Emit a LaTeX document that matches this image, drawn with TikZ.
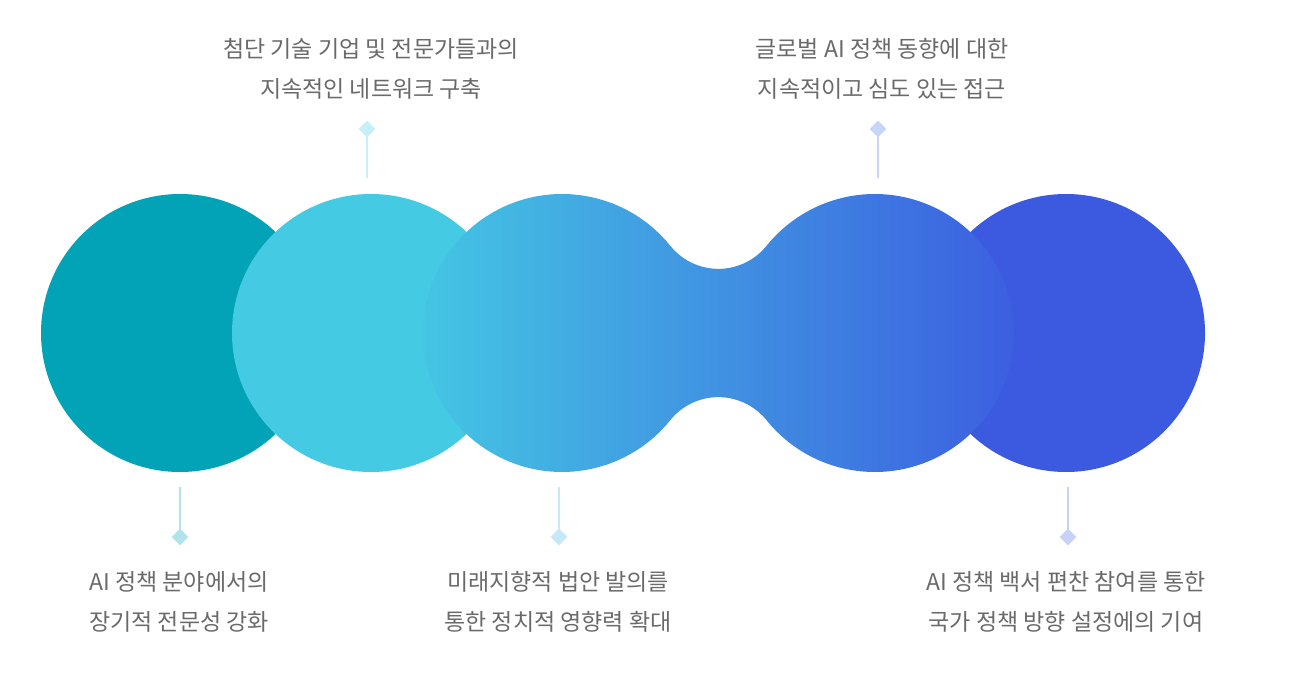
\documentclass[tikz,border=0pt]{standalone}
\usepackage{fontspec}
\setmainfont{Noto Sans CJK KR}
\usepackage{tikz}
\usetikzlibrary{shapes.geometric,positioning}
\definecolor{tealdeep}{HTML}{02A2B7}
\definecolor{cyanlight}{HTML}{44CAE2}
\definecolor{blobleft}{HTML}{44C8E3}
\definecolor{blobright}{HTML}{3C5CE0}
\definecolor{royal}{HTML}{3C5AE0}
\definecolor{labelgray}{HTML}{6A6A6A}
\definecolor{stemA}{HTML}{B2E3EA}
\definecolor{stemB}{HTML}{C6EFF7}
\definecolor{stemC}{HTML}{C6E8F8}
\definecolor{stemD}{HTML}{C6D6F7}
\definecolor{stemE}{HTML}{C8D1F7}

\begin{document}
\begin{tikzpicture}[x=1pt,y=1pt,
	labeltext/.style={align=center, text=labelgray, inner sep=0pt, font=\fontsize{23}{40}\selectfont},
	marker/.style={diamond, minimum size=17pt, inner sep=0pt},
	stem/.style={line width=2.7pt}]
				\useasboundingbox (0,0) rectangle (1289,686);
				\fill[tealdeep] (180,353) circle (139pt);
				\fill[cyanlight] (371,353) circle (139pt);
				\fill[royal] (1066,353) circle (139pt);
				% joined pair with a narrow neck
				\shade[left color=blobleft, right color=blobright]
					(562,353) ++(38.84:139pt) arc[start angle=38.84, end angle=321.16, radius=139pt]
					arc[start angle=141.16, end angle=38.84, radius=61.8pt]
					arc[start angle=218.84, end angle=501.16, radius=139pt]
					arc[start angle=-38.84, end angle=-141.16, radius=61.8pt] -- cycle;
				% markers above
				\node[marker, fill=stemB] (mk2) at (367,557) {};
				\coordinate (ft2) at (367,508);
				\draw[stem, stemB] (mk2.center) -- (ft2);
				\node[marker, fill=stemD] (mk4) at (878,557) {};
				\coordinate (ft4) at (878,508);
				\draw[stem, stemD] (mk4.center) -- (ft4);
				% markers below
				\node[marker, fill=stemA] (mk1) at (180,149) {};
				\coordinate (ft1) at (180,199);
				\draw[stem, stemA] (ft1) -- (mk1.center);
				\node[marker, fill=stemC] (mk3) at (559,149) {};
				\coordinate (ft3) at (559,199);
				\draw[stem, stemC] (ft3) -- (mk3.center);
				\node[marker, fill=stemE] (mk5) at (1068,149) {};
				\coordinate (ft5) at (1068,199);
				\draw[stem, stemE] (ft5) -- (mk5.center);
				% labels
				\node[labeltext] (lb2) at (371,617) {첨단 기술 기업 및 전문가들과의\\지속적인 네트워크 구축};
				\node[labeltext] (lb4) at (882,617) {글로벌 AI 정책 동향에 대한\\지속적이고 심도 있는 접근};
				\node[labeltext] (lb1) at (179,84) {AI 정책 분야에서의\\장기적 전문성 강화};
				\node[labeltext] (lb3) at (558,84) {미래지향적 법안 발의를\\통한 정치적 영향력 확대};
				\node[labeltext] (lb5) at (1066,84) {AI 정책 백서 편찬 참여를 통한\\국가 정책 방향 설정에의 기여};
\end{tikzpicture}
\end{document}
